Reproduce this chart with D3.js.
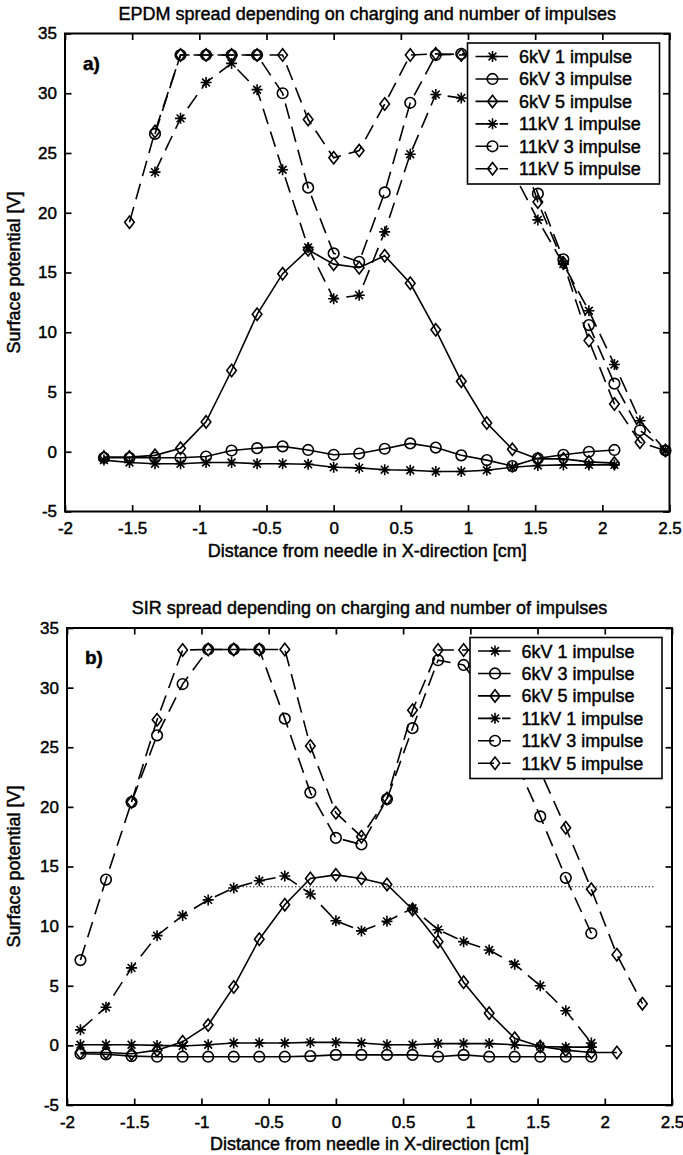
<!DOCTYPE html>
<html>
<head>
<meta charset="utf-8">
<script src="https://cdn.jsdelivr.net/npm/d3@7"></script>
<style>
  body { margin: 0; background: #fff; }
  svg text { font-family: "Liberation Sans", Arial, Helvetica, sans-serif; fill: #000;
             stroke: #000; stroke-width: 0.45px; }
</style>
</head>
<body>
<svg id="chart" width="683" height="1155"></svg>
<script>
// ---- data ----
const seriesNames = ["6kV 1 impulse", "6kV 3 impulse", "6kV 5 impulse",
                     "11kV 1 impulse", "11kV 3 impulse", "11kV 5 impulse"];

const xTicks      = [-2, -1.5, -1, -0.5, 0, 0.5, 1, 1.5, 2, 2.5];
const xTickLabels = ["-2", "-1.5", "-1", "-0.5", "0", "0.5", "1", "1.5", "2", "2.5"];
const yTicks      = [-5, 0, 5, 10, 15, 20, 25, 30, 35];
const yTickLabels = ["-5", "0", "5", "10", "15", "20", "25", "30", "35"];

// EPDM (a)
const xEPDM = [-1.71, -1.52, -1.33, -1.14, -0.95, -0.76, -0.57, -0.38, -0.19, 0, 0.19, 0.38,
               0.57, 0.76, 0.95, 1.14, 1.33, 1.52, 1.71, 1.90, 2.09, 2.28, 2.47];
const epdm6kV1  = [-0.7, -0.9, -1.0, -1.0, -0.9, -0.9, -1.0, -1.0, -1.05, -1.3, -1.35, -1.5,
                   -1.55, -1.65, -1.65, -1.55, -1.3, -1.15, -1.1, -1.1, -1.1, null, null];
const epdm6kV3  = [-0.5, -0.5, -0.5, -0.5, -0.4, 0.1, 0.3, 0.45, 0.15, -0.25, -0.15, 0.25,
                   0.7, 0.35, -0.3, -0.7, -1.2, -0.55, -0.25, 0.0, 0.15, null, null];
const epdm6kV5  = [-0.45, -0.45, -0.3, 0.3, 2.5, 6.8, 11.5, 14.9, 16.9, 15.7, 15.4, 16.4,
                   14.1, 10.2, 5.9, 2.4, 0.2, -0.6, -0.6, -0.85, -0.95, null, null];
const epdm11kV1 = [null, null, 23.4, 27.9, 30.9, 32.5, 30.3, 23.6, 17.1, 12.8, 13.1, 18.4,
                   24.9, 29.9, 29.6, 27.0, 23.5, 19.4, 15.7, 11.8, 7.3, 2.6, 0.1];
const epdm11kV3 = [null, null, 26.6, 33.2, 33.2, 33.2, 33.2, 30.0, 22.1, 16.6, 15.9, 21.7,
                   29.2, 33.2, 33.3, 33.2, 28.0, 21.6, 16.1, 10.6, 5.7, 1.8, 0.1];
const epdm11kV5 = [null, 19.2, 26.8, 33.2, 33.2, 33.2, 33.2, 33.2, 27.8, 24.6, 25.2, 29.1,
                   33.2, 33.3, 33.2, 33.2, 27.5, 20.9, 15.8, 9.3, 4.0, 0.8, 0.1];

// SIR (b)
const xSIR = [-1.90, -1.71, -1.52, -1.33, -1.14, -0.95, -0.76, -0.57, -0.38, -0.19, 0, 0.19,
              0.38, 0.57, 0.76, 0.95, 1.14, 1.33, 1.52, 1.71, 1.90, 2.09, 2.28];
const sir6kV1  = [0.05, 0.05, 0.05, 0.0, -0.05, 0.05, 0.2, 0.2, 0.2, 0.25, 0.25, 0.2,
                  0.05, 0.05, 0.15, 0.15, 0.15, 0.05, -0.1, -0.15, -0.15, null, null];
const sir6kV3  = [-0.7, -0.75, -0.9, -0.95, -0.95, -0.95, -0.95, -0.95, -0.95, -0.9, -0.8, -0.8,
                  -0.8, -0.8, -0.95, -0.8, -0.95, -0.95, -0.95, -0.95, -0.95, null, null];
const sir6kV5  = [-0.6, -0.6, -0.7, -0.4, 0.3, 1.7, 4.9, 8.9, 11.8, 14.0, 14.3, 14.0,
                  13.5, 11.4, 8.7, 5.3, 2.7, 0.6, -0.1, -0.4, -0.6, -0.6, null];
const sir11kV1 = [1.3, 3.2, 6.5, 9.2, 10.9, 12.2, 13.2, 13.8, 14.2, 12.7, 10.45, 9.6,
                  10.4, 11.5, 9.7, 8.7, 8.0, 6.8, 5.0, 2.9, 0.2, null, null];
const sir11kV3 = [7.15, 13.9, 20.4, 26.0, 30.3, 33.2, 33.2, 33.2, 27.4, 21.2, 17.4, 16.85,
                  20.65, 26.6, 32.3, 31.9, 29.0, 24.0, 19.2, 14.05, 9.4, null, null];
const sir11kV5 = [null, null, 20.4, 27.3, 33.15, 33.2, 33.2, 33.2, 33.2, 25.1, 19.5, 17.5,
                  20.7, 28.1, 33.15, 33.15, 33.2, 28.0, 23.0, 18.25, 13.1, 7.6, 3.5];

// dotted reference level in (b)
const sirRefLevel = 13.3;
const sirRefSpan  = [-0.72, 2.37];

// ---- styling ----
const markerType = ["star", "circle", "diamond", "star", "circle", "diamond"];
const lineDash   = [null, null, null, "16,8", "16,8", "16,8"];

const panels = [
  { title: "EPDM spread depending on charging and number of impulses", tag: "a)",
    xs: xEPDM, series: [epdm6kV1, epdm6kV3, epdm6kV5, epdm11kV1, epdm11kV3, epdm11kV5],
    box: { left: 65, right: 669.5, top: 33.5, bottom: 511.5 }, ref: null },
  { title: "SIR spread depending on charging and number of impulses", tag: "b)",
    xs: xSIR, series: [sir6kV1, sir6kV3, sir6kV5, sir11kV1, sir11kV3, sir11kV5],
    box: { left: 67, right: 672, top: 628, bottom: 1105 }, ref: { level: sirRefLevel, span: sirRefSpan } }
];

const svg = d3.select("#chart");

function addMarker(sel, type) {
  if (type === "circle") sel.append("circle").attr("r", 5.3);
  else if (type === "diamond") sel.append("path").attr("d", "M0,-6.2L4.8,0L0,6.2L-4.8,0Z");
  else sel.append("path").attr("d", "M-5.5,0H5.5M0,-5.5V5.5M-3.9,-3.9L3.9,3.9M-3.9,3.9L3.9,-3.9");
}

function styleAxis(a) {
  a.select(".domain").remove();
  a.attr("font-size", 17).attr("font-family", null);
  a.selectAll(".tick line").attr("stroke-width", 1.7);
}

panels.forEach(p => {
  const b = p.box;
  const g = svg.append("g");
  const x = d3.scaleLinear().domain([-2, 2.5]).range([b.left, b.right]);
  const y = d3.scaleLinear().domain([-5, 35]).range([b.bottom, b.top]);
  const cx = (b.left + b.right) / 2;

  // axes, ticks inward on all four sides
  g.append("g").attr("transform", `translate(0,${b.bottom})`)
    .call(d3.axisBottom(x).tickValues(xTicks).tickFormat((d, i) => xTickLabels[i])
      .tickSizeInner(-6.5).tickSizeOuter(0).tickPadding(10.5))
    .call(styleAxis);
  g.append("g").attr("transform", `translate(0,${b.top})`)
    .call(d3.axisTop(x).tickValues(xTicks).tickFormat("").tickSizeInner(-6.5).tickSizeOuter(0))
    .call(styleAxis);
  g.append("g").attr("transform", `translate(${b.left},0)`)
    .call(d3.axisLeft(y).tickValues(yTicks).tickFormat((d, i) => yTickLabels[i])
      .tickSizeInner(-6.5).tickSizeOuter(0).tickPadding(8))
    .call(styleAxis);
  g.append("g").attr("transform", `translate(${b.right},0)`)
    .call(d3.axisRight(y).tickValues(yTicks).tickFormat("").tickSizeInner(-6.5).tickSizeOuter(0))
    .call(styleAxis);

  // reference dotted line
  if (p.ref) {
    g.append("line")
      .attr("x1", x(p.ref.span[0])).attr("x2", x(p.ref.span[1]))
      .attr("y1", y(p.ref.level)).attr("y2", y(p.ref.level))
      .attr("stroke", "#000").attr("stroke-width", 1).attr("stroke-dasharray", "1.3,2.2");
  }

  // series
  const line = d3.line().defined(d => d[1] != null).x(d => x(d[0])).y(d => y(d[1]));
  p.series.forEach((vals, i) => {
    const pts = p.xs.map((xv, j) => [xv, vals[j]]);
    g.append("path").datum(pts)
      .attr("d", line)
      .attr("fill", "none").attr("stroke", "#000").attr("stroke-width", 1.6)
      .attr("stroke-dasharray", lineDash[i]);
    g.append("g")
      .selectAll("g")
      .data(pts.filter(d => d[1] != null))
      .join("g")
      .attr("transform", d => `translate(${x(d[0])},${y(d[1])})`)
      .attr("fill", "none").attr("stroke", "#000").attr("stroke-width", 1.6)
      .each(function () { addMarker(d3.select(this), markerType[i]); });
  });

  // frame
  g.append("rect")
    .attr("x", b.left).attr("y", b.top)
    .attr("width", b.right - b.left).attr("height", b.bottom - b.top)
    .attr("fill", "none").attr("stroke", "#000").attr("stroke-width", 2);

  // legend
  const lw = 192, lh = 141;
  const lg = g.append("g").attr("transform", `translate(${b.right - 10 - lw},${b.top + 9.5})`);
  lg.append("rect").attr("width", lw).attr("height", lh)
    .attr("fill", "#fff").attr("stroke", "#000").attr("stroke-width", 1.6);
  seriesNames.forEach((name, i) => {
    const ry = 13.5 + i * 22.45;
    lg.append("line").attr("x1", 8).attr("x2", 40.6).attr("y1", ry).attr("y2", ry)
      .attr("stroke", "#000").attr("stroke-width", 1.6).attr("stroke-dasharray", lineDash[i]);
    const m = lg.append("g").attr("transform", `translate(25,${ry})`)
      .attr("fill", "none").attr("stroke", "#000").attr("stroke-width", 1.6);
    addMarker(m, markerType[i]);
    lg.append("text").attr("x", 51.5).attr("y", ry + 6.5).attr("font-size", 18).text(name);
  });

  // panel tag
  g.append("text").attr("x", b.left + 18).attr("y", b.top + 36)
    .attr("font-size", 19).attr("font-weight", "bold").text(p.tag);

  // title and axis labels
  g.append("text").attr("x", cx).attr("y", b.top - 14)
    .attr("text-anchor", "middle").attr("font-size", 18).text(p.title);
  g.append("text").attr("x", cx).attr("y", b.bottom + 45)
    .attr("text-anchor", "middle").attr("font-size", 18)
    .text("Distance from needle in X-direction [cm]");
  g.append("text")
    .attr("transform", `translate(20,${(b.top + b.bottom) / 2}) rotate(-90)`)
    .attr("text-anchor", "middle").attr("font-size", 18)
    .text("Surface potential [V]");
});
</script>
</body>
</html>
